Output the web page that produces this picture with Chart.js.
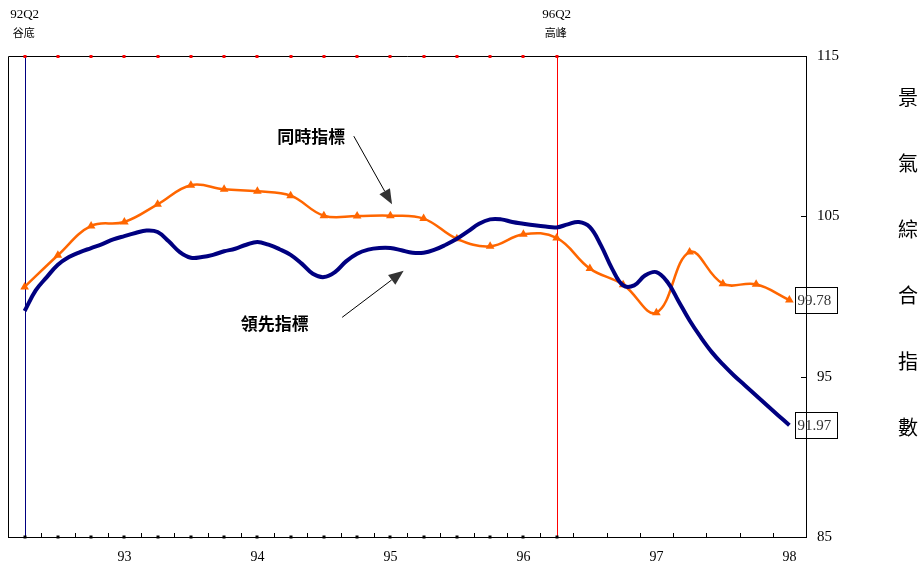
<!DOCTYPE html>
<html>
<head>
<meta charset="utf-8">
<script src="https://cdn.jsdelivr.net/npm/chart.js@4.4.0/dist/chart.umd.min.js"></script>
<style>
  html, body { margin: 0; padding: 0; background: #fff; }
  #wrap { width: 923px; height: 562px; position: relative; }
</style>
</head>
<body>
<div id="wrap"><canvas id="cycle-chart"></canvas></div>
<script>
// Quarter index 0 = 92Q2 ... 23 = 98Q1
const yearTickIndex = [3, 7, 11, 15, 19, 23];
const yearTickLabels = ['93', '94', '95', '96', '97', '98'];
const yTicks = [85, 95, 105, 115];

// 同時指標 (quarterly)
const coincidentIndex = [100.6, 102.57, 104.4, 104.65, 105.75, 106.94, 106.69, 106.56, 106.29, 105.04,
  105.02, 105.04, 104.86, 103.6, 103.13, 103.88, 103.65, 101.74, 100.74, 98.99,
  102.77, 100.8, 100.76, 99.78];

// 領先指標 (monthly, 92M4 ... 98M1)
const leadingIndex = [99.1, 100.38, 101.21, 101.98, 102.46, 102.77, 103.02, 103.27, 103.56, 103.77,
  103.96, 104.11, 104.02, 103.44, 102.77, 102.42, 102.46, 102.6, 102.82, 102.98,
  103.23, 103.4, 103.23, 102.95, 102.6, 102.05, 101.42, 101.21, 101.52, 102.19,
  102.67, 102.92, 103.02, 103.02, 102.88, 102.73, 102.73, 102.92, 103.23, 103.6,
  104.06, 104.54, 104.81, 104.81, 104.65, 104.54, 104.44, 104.36, 104.31, 104.5,
  104.65, 104.33, 103.19, 101.74, 100.69, 100.69, 101.32, 101.52, 100.9, 99.71,
  98.5, 97.46, 96.53, 95.76, 95.07, 94.45, 93.83, 93.2, 92.58, 91.97];

// turning points: trough 92Q2, peak 96Q2
const turningIndex = [0, 16];
const turningLabels = [['92Q2', '谷底'], ['96Q2', '高峰']];
const turningColors = ['#000080', '#ff0000'];

const titleChars = ['景', '氣', '綜', '合', '指', '數'];

// annotation text anchor and arrow (in data units)
const notes = [
  { text: '同時指標', at: [7.6, 110.0], from: [9.9, 110.0], to: [11.05, 105.75] },
  { text: '領先指標', at: [6.5, 98.3], from: [9.55, 98.7], to: [11.4, 101.6] }
];

const ORANGE = '#ff6600';
const NAVY = '#000080';
const CJK = '"Noto Sans CJK TC", "Noto Sans CJK SC", sans-serif';
const SERIF = '"Liberation Serif", "DejaVu Serif", serif';

const decorations = {
  id: 'decorations',
  beforeDatasetsDraw(chart) {
    const { ctx, chartArea: a, scales: { x, y } } = chart;
    ctx.save();
    ctx.lineWidth = 1;
    // frame (left + top)
    ctx.strokeStyle = '#000';
    ctx.beginPath();
    ctx.moveTo(a.left + 0.5, a.bottom);
    ctx.lineTo(a.left + 0.5, a.top + 0.5);
    ctx.lineTo(a.right, a.top + 0.5);
    ctx.stroke();

    // trough / peak lines
    turningIndex.forEach((q, i) => {
      const px = Math.round(x.getPixelForValue(q)) + 0.5;
      ctx.strokeStyle = turningColors[i];
      ctx.beginPath();
      ctx.moveTo(px, a.top);
      ctx.lineTo(px, a.bottom);
      ctx.stroke();
    });

    // quarter dots between trough and peak
    for (let q = turningIndex[0]; q <= turningIndex[1]; q++) {
      const px = Math.round(x.getPixelForValue(q));
      ctx.fillStyle = '#ff0000';
      ctx.fillRect(px - 1.5, a.top - 1, 3, 3);
      ctx.fillStyle = '#000';
      ctx.fillRect(px - 1.5, a.bottom - 1.5, 3, 3);
    }

    // minor ticks on the x axis (category boundaries), pointing up
    ctx.strokeStyle = '#000';
    for (let q = 0.5; q < 23; q++) {
      const px = Math.round(x.getPixelForValue(q)) + 0.5;
      ctx.beginPath();
      ctx.moveTo(px, a.bottom);
      ctx.lineTo(px, a.bottom - 4);
      ctx.stroke();
    }
    // y ticks on the right axis, pointing in
    yTicks.forEach(v => {
      const py = Math.round(y.getPixelForValue(v)) + 0.5;
      ctx.beginPath();
      ctx.moveTo(a.right, py);
      ctx.lineTo(a.right - 5, py);
      ctx.stroke();
    });
    ctx.restore();
  },
  afterDatasetsDraw(chart) {
    const { ctx, scales: { x, y } } = chart;
    ctx.save();

    // turning point labels above the plot
    turningIndex.forEach((q, i) => {
      const px = x.getPixelForValue(q);
      ctx.fillStyle = '#000';
      ctx.textAlign = 'center';
      ctx.textBaseline = 'middle';
      ctx.font = '13px ' + SERIF;
      ctx.fillText(turningLabels[i][0], px, 15);
      ctx.font = '11px ' + CJK;
      ctx.fillText(turningLabels[i][1], px - 1, 33);
    });

    // annotations with arrows
    notes.forEach(n => {
      ctx.fillStyle = '#000';
      ctx.font = 'bold 17px ' + CJK;
      ctx.textAlign = 'left';
      ctx.textBaseline = 'middle';
      ctx.fillText(n.text, x.getPixelForValue(n.at[0]), y.getPixelForValue(n.at[1]));

      const x0 = x.getPixelForValue(n.from[0]), y0 = y.getPixelForValue(n.from[1]);
      const x1 = x.getPixelForValue(n.to[0]), y1 = y.getPixelForValue(n.to[1]);
      const ang = Math.atan2(y1 - y0, x1 - x0);
      const headLen = 15, headW = 6;
      const bx = x1 - headLen * Math.cos(ang), by = y1 - headLen * Math.sin(ang);
      ctx.strokeStyle = '#000';
      ctx.lineWidth = 1;
      ctx.beginPath();
      ctx.moveTo(x0, y0);
      ctx.lineTo(bx, by);
      ctx.stroke();
      ctx.fillStyle = '#333';
      ctx.beginPath();
      ctx.moveTo(x1, y1);
      ctx.lineTo(bx + headW * Math.sin(ang), by - headW * Math.cos(ang));
      ctx.lineTo(bx - headW * Math.sin(ang), by + headW * Math.cos(ang));
      ctx.closePath();
      ctx.fill();
    });

    // boxed latest values
    chart.data.datasets.forEach(ds => {
      const last = ds.data[ds.data.length - 1];
      const px = x.getPixelForValue(last.x), py = y.getPixelForValue(last.y);
      const bx = Math.round(px + 6) + 0.5, by = Math.round(py - 13) + 0.5;
      ctx.strokeStyle = '#000';
      ctx.lineWidth = 1;
      ctx.strokeRect(bx, by, 42, 26);
      ctx.fillStyle = '#333';
      ctx.font = '15px ' + SERIF;
      ctx.textAlign = 'left';
      ctx.textBaseline = 'middle';
      ctx.fillText(last.y.toFixed(2), bx + 2, py + 1);
    });

    // vertical title on the right
    ctx.fillStyle = '#000';
    ctx.font = '20px ' + CJK;
    ctx.textAlign = 'center';
    ctx.textBaseline = 'middle';
    titleChars.forEach((c, i) => ctx.fillText(c, 908, 97 + i * 66));
    ctx.restore();
  }
};

const ctx = document.getElementById('cycle-chart').getContext('2d');
new Chart(ctx, {
  type: 'line',
  data: {
    datasets: [
      {
        label: '同時指標',
        data: coincidentIndex.map((v, i) => ({ x: i, y: v })),
        borderColor: ORANGE,
        backgroundColor: ORANGE,
        borderWidth: 2.5,
        tension: 0.4,
        pointStyle: 'triangle',
        pointRadius: 5,
        pointBorderWidth: 0,
        order: 2
      },
      {
        label: '領先指標',
        data: leadingIndex.map((v, i) => ({ x: i / 3, y: v })),
        borderColor: NAVY,
        backgroundColor: NAVY,
        borderWidth: 4,
        tension: 0.4,
        pointRadius: 0,
        order: 1
      }
    ]
  },
  options: {
    responsive: true,
    maintainAspectRatio: false,
    animation: false,
    layout: { padding: { left: 8, top: 56, right: 0, bottom: 0 } },
    plugins: {
      legend: { display: false },
      tooltip: { enabled: false }
    },
    scales: {
      x: {
        type: 'linear',
        min: -0.5,
        max: 23.5,
        afterBuildTicks: scale => {
          scale.ticks = yearTickIndex.map(v => ({ value: v }));
        },
        afterFit: scale => { scale.height = 25; },
        grid: { display: false, drawTicks: false },
        border: { display: true, color: '#000', width: 1 },
        ticks: {
          autoSkip: false,
          maxRotation: 0,
          padding: 12,
          color: '#000',
          font: { family: SERIF, size: 14 },
          callback: value => yearTickLabels[yearTickIndex.indexOf(value)] ?? ''
        }
      },
      y: {
        position: 'right',
        min: 85,
        max: 115,
        afterBuildTicks: scale => {
          scale.ticks = yTicks.map(v => ({ value: v }));
        },
        afterFit: scale => { scale.width = 117; },
        grid: { display: false, drawTicks: false },
        border: { display: true, color: '#000', width: 1 },
        ticks: {
          padding: 11,
          color: '#000',
          font: { family: SERIF, size: 15 }
        }
      }
    }
  },
  plugins: [decorations]
});
</script>
</body>
</html>
